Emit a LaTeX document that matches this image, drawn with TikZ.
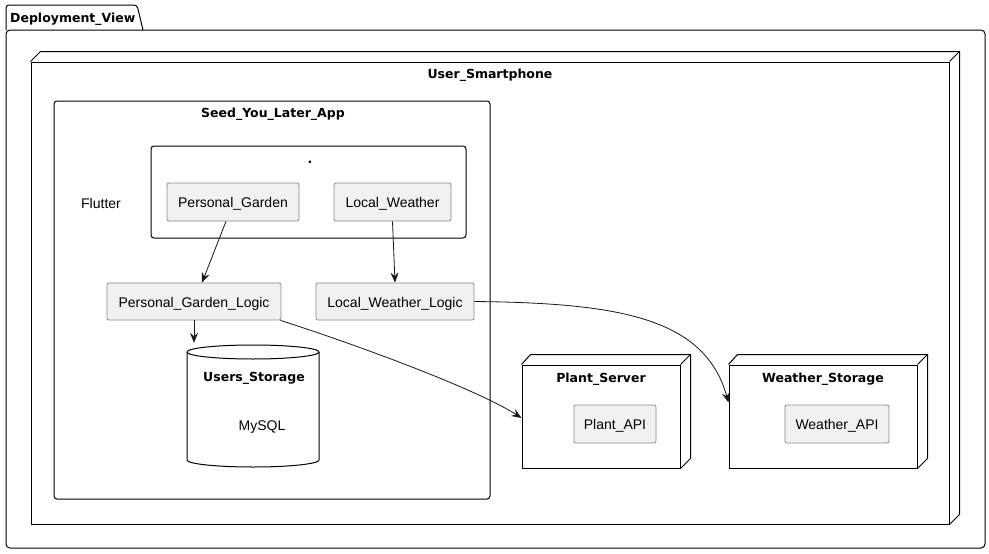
\documentclass[tikz,border=0pt]{standalone}
\usepackage{fontspec}
\setmainfont{Liberation Sans}
\newfontfamily\dvfont{DejaVu Sans}
\usetikzlibrary{arrows.meta}
\definecolor{boxfill}{HTML}{F1F1F1}
\definecolor{boxline}{HTML}{8A8A8A}
\definecolor{inkline}{HTML}{181818}
\begin{document}
\begin{tikzpicture}[x=1pt,y=-1pt,
  frame/.style={draw=black,line width=1pt},
  facebox/.style={frame,fill=white,inner sep=0pt},
  compbox/.style={draw=boxline,fill=boxfill,rounded corners=2pt,line width=0.8pt,
    inner sep=0pt,text height=11pt,text depth=0pt,font=\fontsize{14}{16}\selectfont},
  titletext/.style={font=\dvfont\bfseries\fontsize{12.5}{14}\selectfont,inner sep=0pt,
    text height=9.5pt,text depth=0pt},
  plaintext/.style={font=\fontsize{14}{16}\selectfont,inner sep=0pt,text height=11pt,text depth=0pt},
  conn/.style={draw=inkline,line width=0.8pt,-{Stealth[length=10pt,width=8pt,inset=3.5pt]}}]
\useasboundingbox (0,0) rectangle (989,554);

% package Deployment_View
\draw[frame,rounded corners=3pt] (6,30) -- (6,5) -- (137,5) -- (143,30);
\draw[frame,rounded corners=4pt] (6,30) rectangle (985,548);
\node[titletext,anchor=west] (pkgtitle) at (10,18) {Deployment\_View};

% node User_Smartphone
\node[facebox,minimum width=918,minimum height=462] (phone) at (490,293) {};
\draw[frame] (phone.north west) -- ++(10,-10) -| ([shift={(10pt,10pt)}]phone.south east) -- (phone.south east);
\draw[frame] (phone.north east) -- ++(10,-10);
\node[titletext] (phonetitle) at (490,74) {User\_Smartphone};

% Seed_You_Later_App
\draw[frame,rounded corners=3pt] (54,101) rectangle (490,499);
\node[titletext] (apptitle) at (273,113) {Seed\_You\_Later\_App};

% "." box
\draw[frame,rounded corners=3pt] (151,146) rectangle (466,238);
\node[titletext] (dottitle) at (310,159) {.};
\node[plaintext] (flutter) at (101,203) {Flutter};

\node[compbox,minimum width=132,minimum height=38] (pg) at (233,202) {Personal\_Garden};
\node[compbox,minimum width=117,minimum height=38] (lw) at (392.5,202) {Local\_Weather};
\node[compbox,minimum width=174,minimum height=37] (plg) at (194,301.5) {Personal\_Garden\_Logic};
\node[compbox,minimum width=158,minimum height=37] (lwl) at (395,301.5) {Local\_Weather\_Logic};

% database Users_Storage
\draw[frame,fill=white] (187,352) -- (187,460)
  arc[start angle=180,end angle=360,x radius=66pt,y radius=7pt] -- (319,352)
  arc[start angle=0,end angle=180,x radius=66pt,y radius=7pt] -- cycle;
\draw[frame] (187,352) arc[start angle=180,end angle=360,x radius=66pt,y radius=7pt];
\node[minimum width=132,minimum height=124,inner sep=0pt] (us) at (253,405) {};
\node[titletext] (ustitle) at (254,377) {Users\_Storage};
\node[plaintext] (mysql) at (262,425) {MySQL};

% node Plant_Server
\node[facebox,minimum width=158,minimum height=103] (ps) at (601,416.5) {};
\draw[frame] (ps.north west) -- ++(9,-10) -| ([shift={(10pt,10pt)}]ps.south east) -- (ps.south east);
\draw[frame] (ps.north east) -- ++(10,-10);
\node[titletext] (pstitle) at (601,378) {Plant\_Server};
\node[compbox,minimum width=82,minimum height=38] (papi) at (615,424) {Plant\_API};

% node Weather_Storage
\node[facebox,minimum width=188,minimum height=103] (ws) at (823,416.5) {};
\draw[frame] (ws.north west) -- ++(9,-10) -| ([shift={(10pt,10pt)}]ws.south east) -- (ws.south east);
\draw[frame] (ws.north east) -- ++(10,-10);
\node[titletext] (wstitle) at (823,378) {Weather\_Storage};
\node[compbox,minimum width=104,minimum height=38] (wapi) at (837,424) {Weather\_API};

% connectors
\draw[conn] ([xshift=-7pt]pg.south) -- ([xshift=8pt]plg.north);
\draw[conn] (lw.south) -- (lwl.north);
\draw[conn] (plg.south) -- (plg.south |- us.north);
\draw[conn] ([xshift=-1pt]plg.south east) .. controls (330,336) and (470,385) .. ([yshift=-1.5pt]ps.west);
\draw[conn] (lwl.east) .. controls (620,303) and (705,318) .. ([yshift=14pt]ws.west);
\end{tikzpicture}
\end{document}
